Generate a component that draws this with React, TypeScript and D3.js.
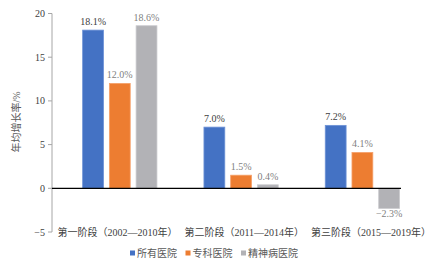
import React from "react";
import * as d3 from "d3";

const categories = ["第一阶段（2002—2010年）", "第二阶段（2011—2014年）", "第三阶段（2015—2019年）"];
const seriesNames = ["所有医院", "专科医院", "精神病医院"];
const allHospitals = [18.1, 7.0, 7.2];
const specialtyHospitals = [12.0, 1.5, 4.1];
const psychHospitals = [18.6, 0.4, -2.3];
const yTicks = [-5, 0, 5, 10, 15, 20];
const yTitle = "年均增长率/%";

const colors = ["#4472C4", "#ED7D31", "#B2B2B6"];
const strokes = ["#6d92d6", "#f5a06a", "#cacace"];
const labelColors = ["#404040", "#7f7f7f", "#7f7f7f"];
const FONT = "'Liberation Serif', 'Times New Roman', 'Noto Sans CJK SC', serif";

export default function App() {
  const W = 434, H = 262;
  const series = [allHospitals, specialtyHospitals, psychHospitals];
  const y = d3.scaleLinear().domain([-5, 20]).range([232, 13.5]);
  const x0 = d3.scaleBand<string>().domain(categories).range([59.15, 423.05]).padding(0);
  const groupW = 74.3;
  const x1 = d3.scaleBand<string>().domain(seriesNames).range([0, groupW]).paddingInner(0.22).paddingOuter(0);
  const labelX = d3.scalePoint<string>().domain(categories).range([117.5, 371]);
  const axisX = 52;
  const zeroRight = 401;

  const legendPos = [130, 185.5, 241];

  return (
    <svg width={W} height={H} style={{ position: "absolute", left: 0, top: 0, background: "#fff" }} fontFamily={FONT}>
      {/* y axis */}
      <line x1={axisX} x2={axisX} y1={y(20)} y2={y(-5)} stroke="#a6a6a6" strokeWidth={1} />
      {yTicks.map((t) => (
        <g key={t}>
          <line x1={axisX - 4} x2={axisX} y1={y(t)} y2={y(t)} stroke="#a6a6a6" strokeWidth={1} />
          <text x={axisX - 7} y={y(t)} dy="0.35em" textAnchor="end" fontSize={10} fill="#404040">
            {t < 0 ? "−" + Math.abs(t) : t}
          </text>
        </g>
      ))}
      <text
        transform={`translate(16,${122}) rotate(-90)`}
        textAnchor="middle"
        dy="0.35em"
        fontSize={10}
        fill="#595959"
      >
        {yTitle}
      </text>

      {/* bars */}
      {categories.map((c, i) => (
        <g key={c} transform={`translate(${(x0(c) as number) + x0.bandwidth() / 2 - groupW / 2},0)`}>
          {series.map((s, j) => {
            const v = s[i];
            const bx = x1(seriesNames[j]) as number;
            const top = y(Math.max(0, v));
            const h = Math.abs(y(v) - y(0));
            const label = (v < 0 ? "−" + Math.abs(v).toFixed(1) : v.toFixed(1)) + "%";
            return (
              <g key={j}>
                <rect x={bx} y={top} width={x1.bandwidth()} height={h} fill={colors[j]} stroke={strokes[j]} strokeWidth={0.8} />
                <text
                  x={bx + x1.bandwidth() / 2}
                  y={v >= 0 ? y(v) - 5 : y(v) + 9}
                  textAnchor="middle"
                  fontSize={10}
                  fill={labelColors[j]}
                >
                  {label}
                </text>
              </g>
            );
          })}
        </g>
      ))}

      {/* zero line */}
      <line x1={axisX} x2={zeroRight} y1={y(0)} y2={y(0)} stroke="#000" strokeWidth={1.3} />

      {/* category labels */}
      {categories.map((c) => (
        <text key={c} x={labelX(c)} y={236} textAnchor="middle" fontSize={10} fill="#404040">
          {c}
        </text>
      ))}

      {/* legend */}
      {seriesNames.map((n, j) => (
        <g key={n} transform={`translate(${legendPos[j]},253)`}>
          <rect x={0} y={-2.5} width={5} height={5} fill={colors[j]} />
          <text x={7} y={0} dy="0.35em" fontSize={10} fill="#595959">
            {n}
          </text>
        </g>
      ))}
    </svg>
  );
}
